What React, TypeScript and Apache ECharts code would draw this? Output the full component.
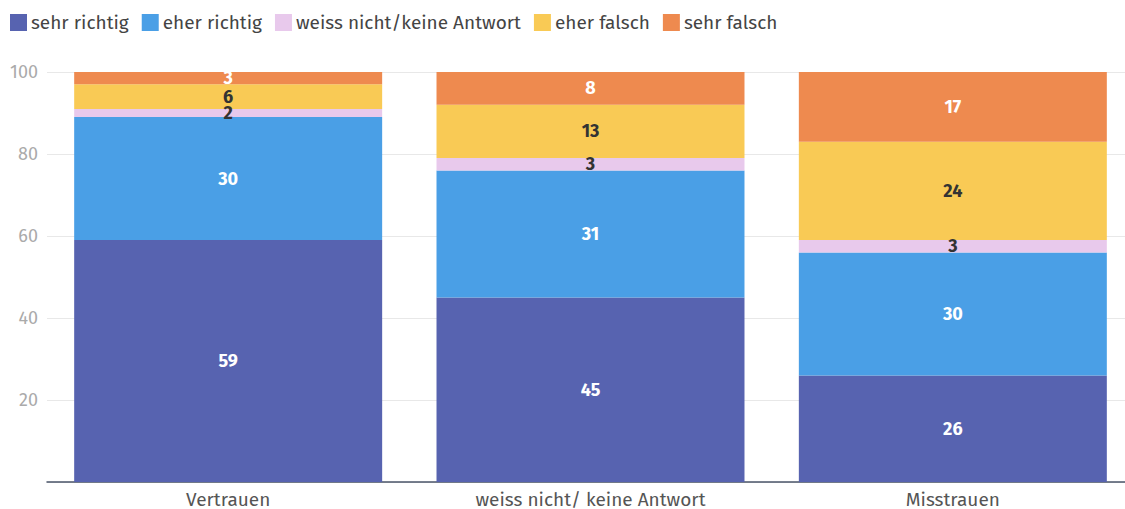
import React, { useEffect, useRef } from "react";
import * as echarts from "echarts";

const categories = ["Vertrauen", "weiss nicht/ keine Antwort", "Misstrauen"];
const seriesNames = ["sehr richtig", "eher richtig", "weiss nicht/keine Antwort", "eher falsch", "sehr falsch"];
const sehrRichtig = [59, 45, 26];
const eherRichtig = [30, 31, 30];
const weissNicht = [2, 3, 3];
const eherFalsch = [6, 13, 24];
const sehrFalsch = [3, 8, 17];
const colors = ["#5763b0", "#4a9fe6", "#e8c9ec", "#f9ca55", "#ee8a4f"];
const labelColors = ["#ffffff", "#ffffff", "#333333", "#333333", "#ffffff"];

export default function App() {
  const ref = useRef<HTMLDivElement>(null);
  useEffect(() => {
    const chart = echarts.init(ref.current!, undefined, { renderer: "svg" });
    const data = [sehrRichtig, eherRichtig, weissNicht, eherFalsch, sehrFalsch];
    const font = "'Fira Sans', 'Noto Sans', sans-serif";
    chart.setOption({
      animation: false,
      textStyle: { fontFamily: font },
      legend: {
        left: 5,
        top: 8,
        itemWidth: 17,
        itemHeight: 17,
        itemGap: 13,
        icon: "rect",
        textStyle: { fontSize: 19, color: "#444", fontFamily: font, padding: [0, 0, 0, -1] },
        data: seriesNames,
      },
      grid: { left: 47, right: 0, top: 72, bottom: 27 },
      xAxis: {
        type: "category",
        data: categories,
        axisTick: { show: false },
        axisLine: { lineStyle: { color: "#4a5468", width: 1.5 } },
        axisLabel: { fontSize: 19, color: "#555", margin: 8, fontFamily: font },
      },
      yAxis: {
        type: "value",
        min: 0,
        max: 100,
        interval: 20,
        axisLabel: { showMinLabel: false, fontSize: 18, color: "#aaa", margin: 9, fontFamily: font },
        splitLine: { lineStyle: { color: "#e8e8e8" } },
      },
      series: seriesNames.map((name, i) => ({
        name,
        type: "bar",
        stack: "total",
        barCategoryGap: "15%",
        data: data[i],
        itemStyle: { color: colors[i] },
        label: {
          show: true,
          position: "inside",
          fontSize: 18,
          fontWeight: "bold",
          color: labelColors[i],
          fontFamily: font,
        },
      })),
    });
    return () => chart.dispose();
  }, []);
  return (
    <div style={{ position: "absolute", left: 0, top: 0, width: 1125, height: 509, overflow: "hidden" }}>
      <div ref={ref} style={{ width: 1134, height: 509 }} />
    </div>
  );
}
